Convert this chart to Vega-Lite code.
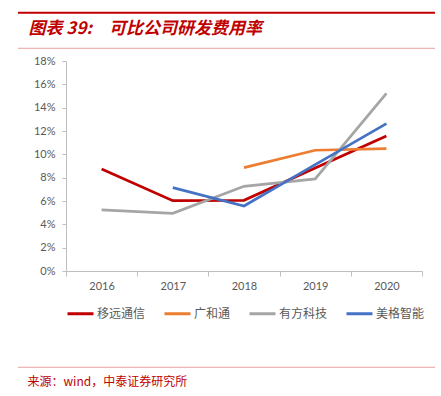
{
  "$schema": "https://vega.github.io/schema/vega-lite/v6.json",
  "autosize": "none",
  "width": 356,
  "height": 210,
  "padding": {"left": 66, "top": 61, "right": 19, "bottom": 125},
  "background": "white",
  "config": {"view": {"stroke": null}, "font": "Lato", "axisY": {"labelOverlap": false}},
  "layer": [
    {
      "data": {
        "values": [
          {"year": "2016", "company": "移远通信", "rate": 0.0874},
          {"year": "2017", "company": "移远通信", "rate": 0.0603},
          {"year": "2018", "company": "移远通信", "rate": 0.0606},
          {"year": "2019", "company": "移远通信", "rate": 0.0882},
          {"year": "2020", "company": "移远通信", "rate": 0.1157},
          {"year": "2018", "company": "广和通", "rate": 0.0886},
          {"year": "2019", "company": "广和通", "rate": 0.1035},
          {"year": "2020", "company": "广和通", "rate": 0.1049},
          {"year": "2016", "company": "有方科技", "rate": 0.0523},
          {"year": "2017", "company": "有方科技", "rate": 0.0494},
          {"year": "2018", "company": "有方科技", "rate": 0.0726},
          {"year": "2019", "company": "有方科技", "rate": 0.0790},
          {"year": "2020", "company": "有方科技", "rate": 0.1523},
          {"year": "2017", "company": "美格智能", "rate": 0.0714},
          {"year": "2018", "company": "美格智能", "rate": 0.0557},
          {"year": "2019", "company": "美格智能", "rate": 0.0912},
          {"year": "2020", "company": "美格智能", "rate": 0.1263}
        ]
      },
      "mark": {"type": "line", "strokeWidth": 2.75},
      "encoding": {
        "x": {
          "field": "year",
          "type": "ordinal",
          "bandPosition": 0.5,
          "scale": {"type": "band", "paddingInner": 0, "paddingOuter": 0},
          "axis": {
            "title": "来源：wind，中泰证券研究所",
            "titleFont": "Noto Sans CJK SC",
            "titleFontSize": 12,
            "titleFontWeight": "normal",
            "titleColor": "#C00000",
            "titleAlign": "left",
            "titleAnchor": "start",
            "titleBaseline": "middle",
            "titleX": -39,
            "titleY": 110,
            "tickBand": "extent",
            "domainColor": "#BFBFBF",
            "tickColor": "#BFBFBF",
            "tickSize": 5,
            "labelAngle": 0,
            "labelFontSize": 11,
            "labelColor": "#595959",
            "labelPadding": 4,
            "grid": false
          }
        },
        "y": {
          "field": "rate",
          "type": "quantitative",
          "scale": {"domain": [0, 0.18]},
          "axis": {
            "title": "图表 39:　可比公司研发费用率",
            "titleFont": "Noto Sans CJK SC",
            "titleFontSize": 17,
            "titleFontStyle": "italic",
            "titleFontWeight": "bold",
            "titleColor": "#C00000",
            "titleAngle": 0,
            "titleAlign": "left",
            "titleBaseline": "bottom",
            "titleX": -38,
            "titleY": -24,
            "format": ".0%",
            "values": [0, 0.02, 0.04, 0.06, 0.08, 0.1, 0.12, 0.14, 0.16, 0.18],
            "labelOverlap": false,
            "domainColor": "#BFBFBF",
            "tickColor": "#BFBFBF",
            "tickSize": 4,
            "labelPadding": 7,
            "labelFontSize": 11,
            "labelColor": "#595959",
            "grid": false
          }
        },
        "color": {
          "field": "company",
          "type": "nominal",
          "scale": {
            "domain": ["移远通信", "广和通", "有方科技", "美格智能"],
            "range": ["#C00000", "#ED7D31", "#A5A5A5", "#4472C4"]
          },
          "legend": {
            "title": null,
            "orient": "none",
            "direction": "horizontal",
            "columns": 4,
            "legendX": 0,
            "legendY": 238,
            "padding": 0,
            "symbolType": "stroke",
            "symbolSize": 676,
            "symbolStrokeWidth": 3,
            "labelFont": "Noto Sans CJK SC",
            "labelFontSize": 12,
            "labelColor": "#595959",
            "labelOffset": 2,
            "columnPadding": 12
          }
        }
      }
    },
    {
      "data": {"values": [{}]},
      "mark": {"type": "rule", "color": "#C00000", "strokeWidth": 2, "clip": false},
      "encoding": {
        "x": {"datum": -0.1348, "type": "quantitative", "scale": {"domain": [0, 1]}, "axis": null},
        "x2": {"datum": 1.0365},
        "y": {"datum": 0.2214, "type": "quantitative", "axis": null}
      }
    },
    {
      "data": {"values": [{}]},
      "mark": {"type": "rule", "color": "#E8A0A0", "strokeWidth": 1, "clip": false},
      "encoding": {
        "x": {"datum": -0.1348, "type": "quantitative", "scale": {"domain": [0, 1]}, "axis": null},
        "x2": {"datum": 1.0365},
        "y": {"datum": 0.1909, "type": "quantitative", "axis": null}
      }
    },
    {
      "data": {"values": [{}]},
      "mark": {"type": "rule", "color": "#E8A0A0", "strokeWidth": 1, "clip": false},
      "encoding": {
        "x": {"datum": -0.1348, "type": "quantitative", "scale": {"domain": [0, 1]}, "axis": null},
        "x2": {"datum": 1.0365},
        "y": {"datum": -0.0825, "type": "quantitative", "axis": null}
      }
    }
  ],
  "resolve": {"scale": {"x": "independent"}, "axis": {"y": "independent"}}
}
